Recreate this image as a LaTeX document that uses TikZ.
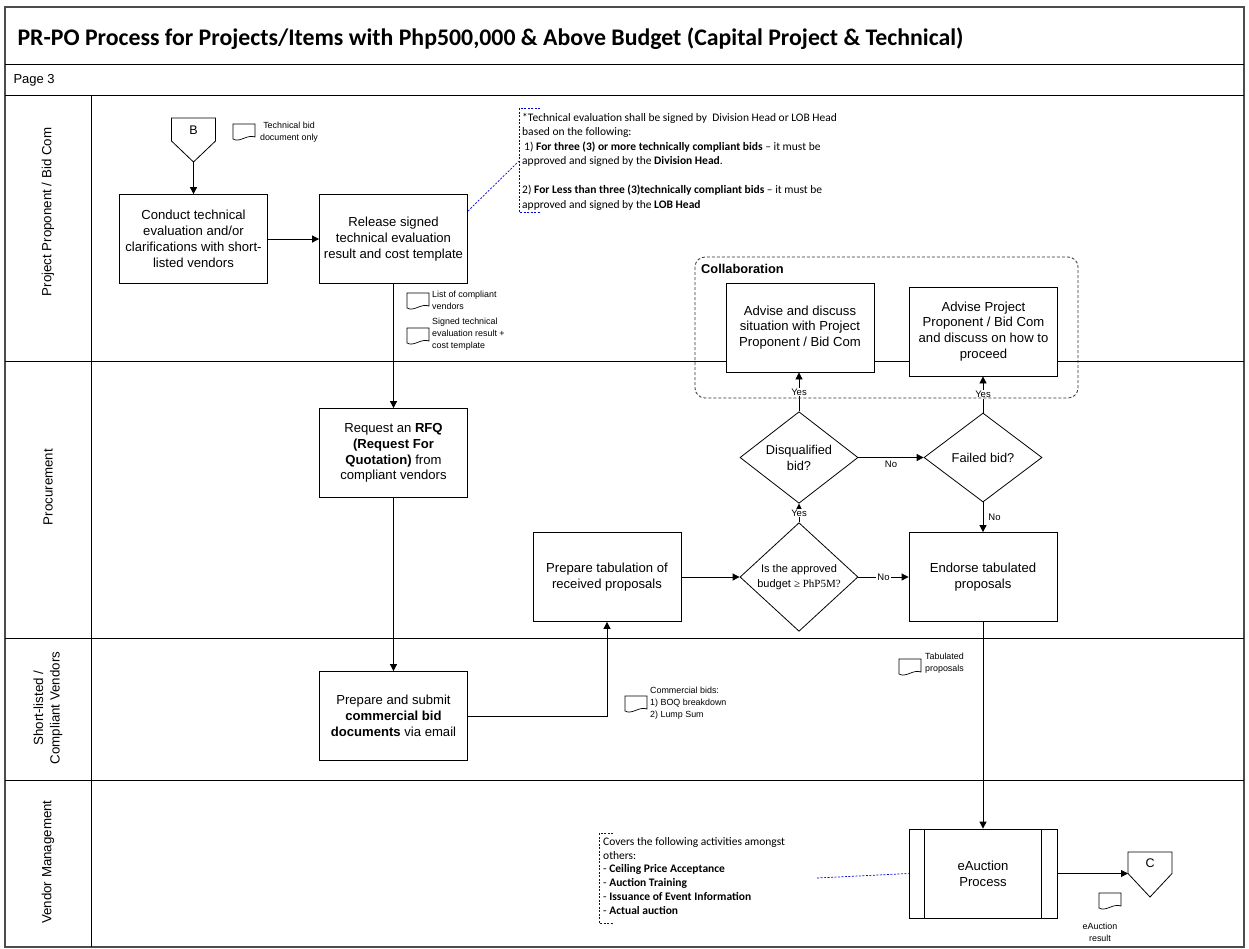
\documentclass[tikz,border=0pt]{standalone}
\usepackage{fontspec}
\setmainfont{Liberation Sans}
\newfontfamily\calfont{Carlito}
\newfontfamily\serifnum{Liberation Serif}
\usetikzlibrary{arrows.meta,shapes.geometric,calc}
\newcommand\fs[2]{\fontsize{#1}{#2}\selectfont}
\begin{document}
\begin{tikzpicture}[x=1pt,y=-1pt,
  border/.style={line width=1.3pt,draw=black!70},
  laneline/.style={line width=0.9pt,draw=black},
  lanelabel/.style={rotate=90,align=center,font=\fs{13.3}{16.5}},
  proc/.style={draw,line width=0.8pt,fill=white,align=center,inner sep=1pt,
    minimum width=148pt,minimum height=89pt,font=\fs{13.1}{15.8}},
  decision/.style={draw,diamond,line width=0.8pt,fill=white,align=center,inner sep=0pt,
    minimum width=118pt,minimum height=89pt,font=\fs{12.8}{16}},
  flow/.style={line width=0.8pt,-{Triangle[length=7pt,width=7pt]}},
  lbl/.style={font=\fs{9.5}{11},inner sep=1pt},
  doctext/.style={font=\fs{8.9}{11.8},align=left,inner sep=0pt},
  note/.style={font=\calfont\fs{11.5}{14.5},align=left,inner sep=0pt},
  notebracket/.style={draw=blue!85!black,line width=0.7pt,dash pattern=on 2pt off 1.5pt},
  collab/.style={draw=black!80,line width=0.8pt,dash pattern=on 3pt off 2pt,rounded corners=10pt},
  connector/.style={line width=0.8pt,draw,fill=white},
  docshape/.pic={\draw[line width=0.7pt,fill=white] (0,0) -- (22,0) -- (22,13) .. controls (14,10) and (7,19) .. (0,15) -- cycle;},
]
\useasboundingbox (0,0) rectangle (1249,948);

% frame, header rows and swimlanes
\draw[border] (5,7) rectangle (1244,947);
\draw[laneline] (5,64) -- (1244,64);
\draw[laneline] (5,95) -- (1244,95);
\draw[laneline] (91,95) -- (91,947);
\foreach \yy in {361,638,780} \draw[laneline] (5,\yy) -- (1244,\yy);

\node[anchor=west,font=\calfont\bfseries\fs{23.8}{28}] (title) at (14,39)
  {PR-PO Process for Projects/Items with Php500,000 \& Above Budget (Capital Project \& Technical)};
\node[anchor=west,font=\fs{13}{15}] (page) at (10,80) {Page 3};

\node[lanelabel] (lane1) at (48,212) {Project Proponent / Bid Com};
\node[lanelabel] (lane2) at (48,487) {Procurement};
\node[lanelabel] (lane3) at (48,708) {Short-listed /\\Compliant Vendors};
\node[lanelabel] (lane4) at (48,862) {Vendor Management};

% off-page connector B
\draw[connector] (171.5,118) -- (215.5,118) -- (215.5,141) -- (193.5,162) -- (171.5,141) -- cycle;
\node[font=\fs{12.5}{14}] (connB) at (193.5,130) {B};
\coordinate (connBtip) at (193.5,162);

% process steps
\node[proc] (evaluate) at (193.5,239) {Conduct technical\\evaluation and/or\\clarifications with short-\\listed vendors};
\node[proc] (release) at (393.5,239) {Release signed\\technical evaluation\\result and cost template};
\node[proc] (rfq) at (393.5,453) {Request an \textbf{RFQ}\\\textbf{(Request For}\\\textbf{Quotation)} from\\compliant vendors};
\node[proc] (submit) at (393.5,716) {Prepare and submit\\\textbf{commercial bid}\\\textbf{documents} via email};
\node[proc] (tabulate) at (607,577) {Prepare tabulation of\\received proposals};
\node[decision,font=\fs{11}{15}] (budget) at (799,577) {Is the approved\\budget {\serifnum ≥ PhP5M?}};
\node[proc] (endorse) at (983,577) {Endorse tabulated\\proposals};
\node[decision] (disq) at (799,457.5) {Disqualified\\bid?};
\node[decision] (failed) at (983,457.5) {Failed bid?};
\node[proc] (advise1) at (800,327.5) {Advise and discuss\\situation with Project\\Proponent / Bid Com};
\node[proc] (advise2) at (983.5,331.5) {Advise Project\\Proponent / Bid Com\\and discuss on how to\\proceed};
\node[proc] (auction) at (983,873.5) {eAuction\\Process};
\draw[line width=0.8pt] ([xshift=16pt]auction.north west) -- ([xshift=16pt]auction.south west);
\draw[line width=0.8pt] ([xshift=-16pt]auction.north east) -- ([xshift=-16pt]auction.south east);

% off-page connector C
\draw[connector] (1128,852) -- (1172,852) -- (1172,873.5) -- (1150,897) -- (1128,873.5) -- cycle;
\node[font=\fs{12.5}{14}] (connC) at (1150,863) {C};
\coordinate (connCin) at (1128,873.5);

% flow
\draw[flow] (connBtip) -- (evaluate.north);
\draw[flow] (evaluate.east) -- (release.west);
\draw[flow] (release.south) -- (rfq.north);
\draw[flow] (rfq.south) -- (submit.north);
\draw[flow] (submit.east) -- (submit.east -| tabulate.south) -- (tabulate.south);
\draw[flow] (tabulate.east) -- (budget.west);
\draw[flow] (budget.east) -- node[lbl,fill=white] {No} (endorse.west);
\draw[flow] (budget.north) -- node[lbl,fill=white] {Yes} (disq.south);
\draw[flow] (disq.east) -- node[lbl,below=2pt] {No} (failed.west);
\draw[flow] (failed.south) -- node[lbl,right=4pt] {No} (endorse.north);
\draw[flow] (disq.north) -- node[lbl,fill=white] {Yes} (disq.north |- advise1.south);
\draw[flow] (failed.north) -- node[lbl,fill=white] {Yes} (failed.north |- advise2.south);
\draw[flow] (endorse.south) -- (auction.north);
\draw[flow] (auction.east) -- (connCin);

% collaboration group
\draw[collab] (695,257) rectangle (1078,398);
\node[font=\bfseries\fs{12.8}{14},anchor=west,inner sep=0pt] (collabtitle) at (701,269) {Collaboration};

% documents
\pic at (233,124) {docshape};
\node[doctext,align=center] (doc1) at (289,132) {Technical bid\\document only};
\pic at (407,293) {docshape};
\node[doctext,anchor=north west] (doc2) at (432,291) {List of compliant\\vendors};
\pic at (407,328) {docshape};
\node[doctext,anchor=north west] (doc3) at (432,318) {Signed technical\\evaluation result +\\cost template};
\pic at (625,696) {docshape};
\node[doctext,anchor=north west] (doc4) at (650,687) {Commercial bids:\\1) BOQ breakdown\\2) Lump Sum};
\pic at (899,659) {docshape};
\node[doctext,anchor=north west] (doc5) at (925,653) {Tabulated\\proposals};
\pic at (1099,893) {docshape};
\node[doctext,align=center] (doc6) at (1100,932) {eAuction\\result};

% annotations
\draw[notebracket] (540,108) -- (519,108) -- (519,212) -- (540,212);
\node[note,anchor=north west] (note1) at (522,113) {*Technical evaluation shall be signed by\ \ Division Head or LOB Head\\
based on the following:\\
\hspace{2pt}1) \textbf{For three (3) or more technically compliant bids} – it must be\\
approved and signed by the \textbf{Division Head}.\\[14.5pt]
2) \textbf{For Less than three (3)technically compliant bids} – it must be\\
approved and signed by the \textbf{LOB Head}};
\coordinate (note1link) at (519,161);
\draw[notebracket] ($(release.north east)+(0,17)$) -- (note1link);

\draw[notebracket] (613,833) -- (599,833) -- (599,923) -- (613,923);
\node[note,font=\calfont\fs{11.5}{13.8},anchor=north west] (note2) at (603,837) {Covers the following activities amongst\\
others:\\
- \textbf{Ceiling Price Acceptance}\\
- \textbf{Auction Training}\\
- \textbf{Issuance of Event Information}\\
- \textbf{Actual auction}};
\coordinate (note2link) at (817,878);
\draw[notebracket] (note2link) -- (auction.west);
\end{tikzpicture}
\end{document}
